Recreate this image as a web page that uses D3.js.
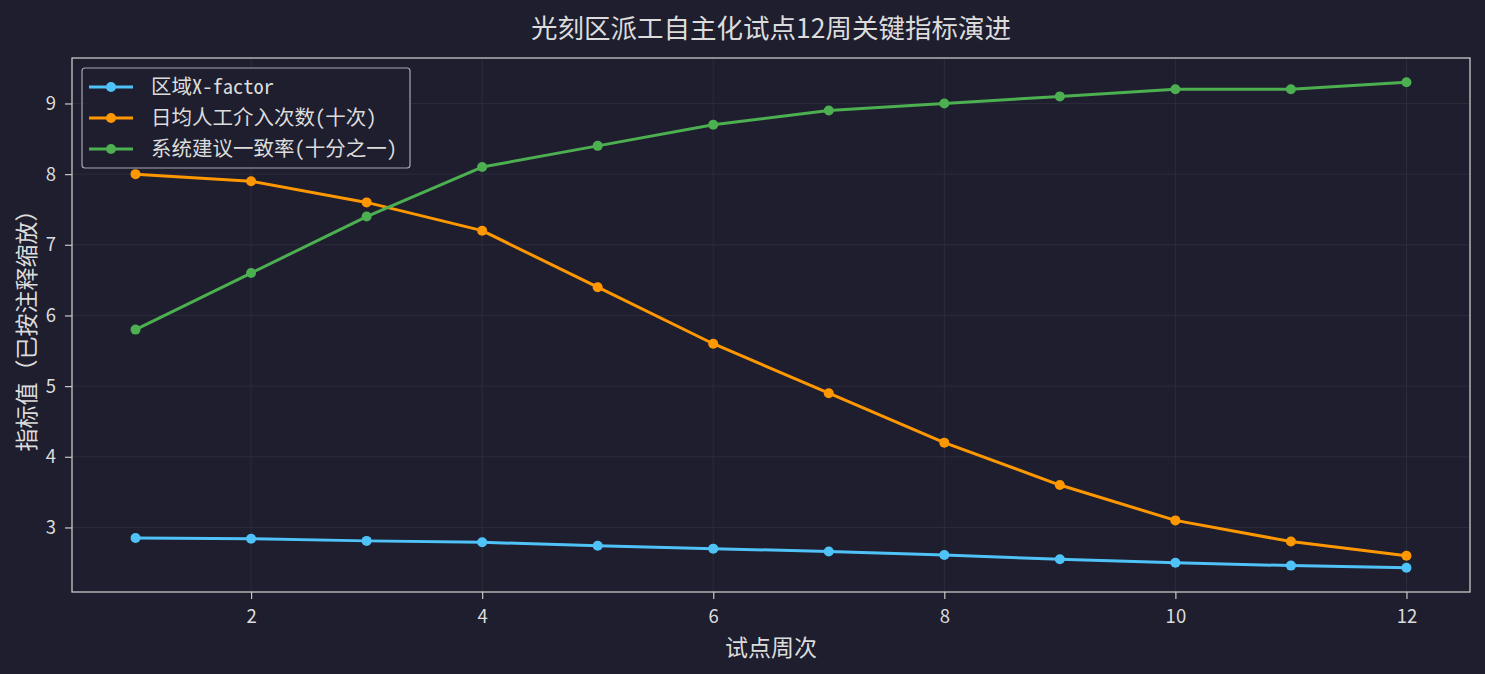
<!DOCTYPE html>
<html><head><meta charset="utf-8">
<script src="https://cdn.jsdelivr.net/npm/d3@7"></script>
<style>
html,body{margin:0;padding:0;background:#1e1e2e;}
svg{display:block;}
text{font-family:"Noto Sans CJK SC","Noto Sans",sans-serif;fill:#dcdcdc;}
</style></head>
<body>
<svg id="c" width="1485" height="674"></svg>
<script>
const weeks = [1,2,3,4,5,6,7,8,9,10,11,12];
const xfactor = [2.85,2.84,2.81,2.79,2.74,2.70,2.66,2.61,2.55,2.50,2.46,2.43];
const interventions = [8.0,7.9,7.6,7.2,6.4,5.6,4.9,4.2,3.6,3.1,2.8,2.6];
const agreement = [5.8,6.6,7.4,8.1,8.4,8.7,8.9,9.0,9.1,9.2,9.2,9.3];
const seriesNames = ["区域X-factor","日均人工介入次数(十次)","系统建议一致率(十分之一)"];
const seriesColors = ["#4fc3f7","#ff9800","#4caf50"];
const xTicks = [2,4,6,8,10,12];
const yTicks = [3,4,5,6,7,8,9];
const title = "光刻区派工自主化试点12周关键指标演进";
const xLabel = "试点周次";
const yLabel = "指标值（已按注释缩放）";

const svg = d3.select("#c");
const L=72, R=1470, T=58, B=592;
const x = d3.scaleLinear().domain([0.45,12.55]).range([L,R]);
const allV = xfactor.concat(interventions, agreement);
const mn = d3.min(allV), mx = d3.max(allV), pad=(mx-mn)*0.05;
const y = d3.scaleLinear().domain([mn-pad, mx+pad]).range([B,T]);

// grid
svg.append("g").selectAll("line").data(xTicks).join("line")
  .attr("x1",d=>x(d)).attr("x2",d=>x(d)).attr("y1",T).attr("y2",B)
  .attr("stroke","#2c2c3c").attr("stroke-width",1);
svg.append("g").selectAll("line").data(yTicks).join("line")
  .attr("x1",L).attr("x2",R).attr("y1",d=>y(d)).attr("y2",d=>y(d))
  .attr("stroke","#2c2c3c").attr("stroke-width",1);

// axes
const xa = svg.append("g").attr("transform",`translate(0,${B})`)
  .call(d3.axisBottom(x).tickValues(xTicks).tickSize(7).tickPadding(11).tickFormat(d3.format("d")));
const ya = svg.append("g").attr("transform",`translate(${L},0)`)
  .call(d3.axisLeft(y).tickValues(yTicks).tickSize(7).tickPadding(9).tickFormat(d3.format("d")));
[xa,ya].forEach(a=>{
  a.select(".domain").remove();
  a.selectAll(".tick line").attr("stroke","#c8c8c8").attr("stroke-width",1.2);
  a.selectAll(".tick text").attr("fill","#dcdcdc").style("font-size","18.5px")
   .style("font-family",'"Noto Sans CJK SC",sans-serif');
});

// frame
svg.append("rect").attr("x",L).attr("y",T).attr("width",R-L).attr("height",B-T)
  .attr("fill","none").attr("stroke","#c8c8c8").attr("stroke-width",1.3);

// lines
const data = [xfactor, interventions, agreement];
const line = d3.line().x((d,i)=>x(weeks[i])).y(d=>y(d));
data.forEach((s,k)=>{
  svg.append("path").datum(s).attr("d",line).attr("fill","none")
    .attr("stroke",seriesColors[k]).attr("stroke-width",3).attr("stroke-linejoin","round");
  svg.append("g").selectAll("circle").data(s).join("circle")
    .attr("cx",(d,i)=>x(weeks[i])).attr("cy",d=>y(d)).attr("r",5)
    .attr("fill",seriesColors[k]);
});

// title and labels
svg.append("text").attr("x",(L+R)/2).attr("y",38).attr("text-anchor","middle")
  .style("font-size","26.5px").text(title);
svg.append("text").attr("x",(L+R)/2).attr("y",656).attr("text-anchor","middle")
  .style("font-size","23px").text(xLabel);
svg.append("text").attr("transform",`translate(35,${(T+B)/2}) rotate(-90)`).attr("text-anchor","middle")
  .style("font-size","23px").text(yLabel);

// legend
const lg = svg.append("g");
lg.append("rect").attr("x",82).attr("y",68).attr("width",328).attr("height",100).attr("rx",3)
  .attr("fill","#1e1e2e").attr("fill-opacity",0.85).attr("stroke","#a8a8b0").attr("stroke-width",1.2);
seriesNames.forEach((n,k)=>{
  const yy = 87 + k*31;
  lg.append("line").attr("x1",89).attr("x2",133).attr("y1",yy).attr("y2",yy)
    .attr("stroke",seriesColors[k]).attr("stroke-width",3);
  lg.append("circle").attr("cx",111).attr("cy",yy).attr("r",5).attr("fill",seriesColors[k]);
  lg.append("text").attr("x",151).attr("y",yy+7).style("font-size",'20.5px')
    .style("font-family",'"Noto Sans Mono CJK SC","Noto Sans CJK SC",sans-serif').text(n);
});
</script>
</body></html>
